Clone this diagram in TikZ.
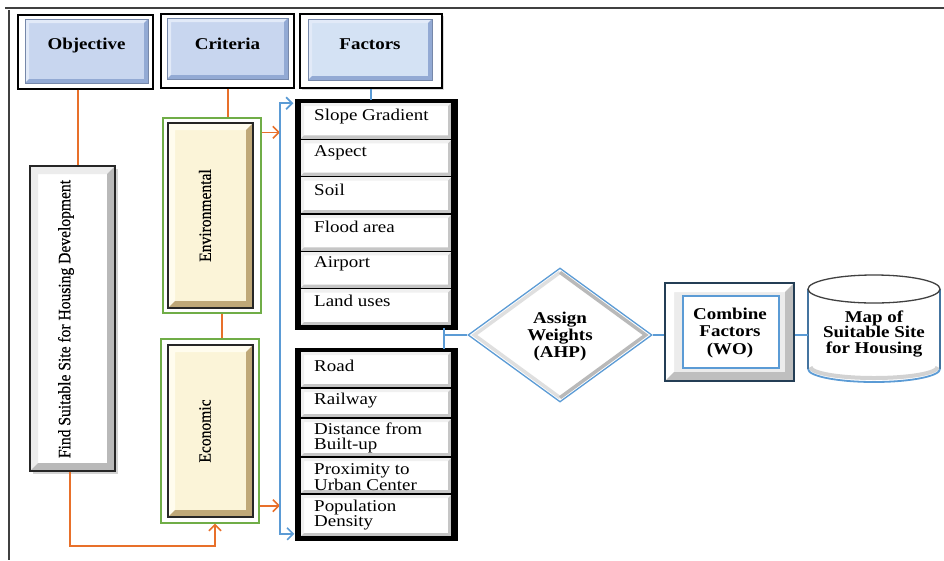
\documentclass[tikz,border=0pt]{standalone}
\usepackage{fontspec}
\setmainfont{Liberation Serif}[FakeStretch=1.15]
\newfontfamily\narrowserif{Liberation Serif}[FakeStretch=0.9,FakeBold=0.6]
\usetikzlibrary{shapes.geometric,arrows.meta,shadows}
\definecolor{orln}{HTML}{E8702A}
\definecolor{blln}{HTML}{5B9BD5}
\definecolor{grn}{HTML}{70AD47}
\definecolor{hdrf}{HTML}{C8D6EF}
\definecolor{hdrl}{HTML}{E2EAF8}
\definecolor{hdrd}{HTML}{93AAD4}
\definecolor{facf}{HTML}{D4E2F4}
\definecolor{crf}{HTML}{FBF4D8}
\definecolor{crl}{HTML}{FFFCEE}
\definecolor{crd}{HTML}{BFA878}
\begin{document}
\begin{tikzpicture}[x=1pt,y=-1pt,
  bevel/.style n args={3}{path picture={
    \coordinate (bvA) at (path picture bounding box.south west);
    \coordinate (bvB) at (path picture bounding box.north east);
    \coordinate (bvC) at (path picture bounding box.north west);
    \coordinate (bvD) at (path picture bounding box.south east);
    \fill[#1] (bvA) -- (bvC) -- (bvB) -- ([shift={(-#3,-#3)}]bvB) -- ([shift={(#3,-#3)}]bvC) -- ([shift={(#3,#3)}]bvA) -- cycle;
    \fill[#2] (bvA) -- ([shift={(#3,#3)}]bvA) -- ([shift={(-#3,#3)}]bvD) -- ([shift={(-#3,-#3)}]bvB) -- (bvB) -- (bvD) -- cycle;
  }},
  hdrout/.style={draw=black,line width=1.4pt,fill=white,inner sep=0pt},
  hdrin/.style={draw=hdrd!80!black,line width=0.6pt,fill=#1,inner sep=0pt,bevel={hdrl}{hdrd}{4pt}},
  hdrtxt/.style={font=\bfseries\fontsize{16.5}{18}\selectfont,inner sep=0pt},
  rowbox/.style={draw=black,line width=1.2pt,fill=white,inner sep=0pt,minimum width=152pt,bevel={gray!12}{gray!45}{4pt}},
  rowtxt/.style={font=\fontsize{16.5}{15.5}\selectfont,align=left,anchor=west,inner sep=0pt},
  rottxt/.style={font=\narrowserif\fontsize{17.3}{18}\selectfont,rotate=90,inner sep=0pt},
  boldtxt/.style={font=\bfseries\fontsize{16.5}{#1}\selectfont,align=center,inner sep=0pt},
  oln/.style={draw=orln,line width=1.6pt},
  bln/.style={draw=blln,line width=1.6pt},
  otip/.style={-{Straight Barb[length=6pt,width=12pt,line width=1.6pt]}},
]
\useasboundingbox (0,0) rectangle (944,560);
% frame
\draw[black!75,line width=1.3pt] (5,8) -- (944,8);
\draw[black!75,line width=1.3pt] (9,10) -- (9,560);

% headers
\node[hdrout,minimum width=135pt,minimum height=74pt] (objout) at (85.5,52) {};
\node[hdrin=hdrf,minimum width=123pt,minimum height=64pt] (objin) at (86.5,51) {};
\node[hdrtxt] (objt) at (86.5,46) {Objective};

\node[hdrout,minimum width=133pt,minimum height=74pt] (critout) at (227.5,51) {};
\node[hdrin=hdrf,minimum width=121pt,minimum height=61pt] (critin) at (227.5,48.5) {};
\node[hdrtxt] (critt) at (227.5,44) {Criteria};

\node[hdrout,line width=2.5pt,minimum width=142pt,minimum height=74pt,drop shadow={shadow xshift=2pt,shadow yshift=-2pt,opacity=0.3}] (facout) at (371,51) {};
\node[hdrin=facf,minimum width=124pt,minimum height=61pt] (facin) at (370,49.5) {};
\node[hdrtxt] (fact) at (370,44) {Factors};

% objective box
\node[draw=black!85,line width=2.2pt,fill=white,minimum width=85pt,minimum height=305pt,inner sep=0pt,bevel={gray!15}{gray!55}{8pt},drop shadow={shadow xshift=3pt,shadow yshift=-3pt,opacity=0.35}] (find) at (72.5,318.5) {};
\node[rottxt] (findt) at (66,319) {Find Suitable Site for Housing Development};

% criteria boxes
\node[draw=grn,line width=1.4pt,minimum width=98pt,minimum height=195pt,inner sep=0pt] (envout) at (212,215.5) {};
\node[draw=black!85,line width=2pt,fill=crf,minimum width=85pt,minimum height=185pt,inner sep=0pt,bevel={crl}{crd}{7pt}] (envin) at (210.5,215.5) {};
\node[rottxt] (envt) at (205,215.5) {Environmental};

\node[draw=grn,line width=1.4pt,minimum width=98pt,minimum height=184pt,inner sep=0pt] (econout) at (210,431) {};
\node[draw=black!85,line width=2pt,fill=crf,minimum width=85pt,minimum height=172pt,inner sep=0pt,bevel={crl}{crd}{7pt}] (econin) at (210.5,431) {};
\node[rottxt] (econt) at (205,431) {Economic};

% factor group 1
\node[draw=black,line width=3.5pt,fill=white,minimum width=156pt,minimum height=224pt,inner sep=0pt] (g1) at (376,214) {};
\node[rowbox,minimum height=37.33pt] (r1) at (376,120.67) {};
\node[rowbox,minimum height=37.33pt] (r2) at (376,158) {};
\node[rowbox,minimum height=37.33pt] (r3) at (376,195.33) {};
\node[rowbox,minimum height=37.33pt] (r4) at (376,232.67) {};
\node[rowbox,minimum height=37.33pt] (r5) at (376,270) {};
\node[rowbox,minimum height=37.33pt] (r6) at (376,307.33) {};
\draw[black,line width=3.5pt] (g1.north west) rectangle (g1.south east);
\node[rowtxt] (r1t) at (314,116.5) {Slope Gradient};
\node[rowtxt] (r2t) at (314,153) {Aspect};
\node[rowtxt] (r3t) at (314,189.5) {Soil};
\node[rowtxt] (r4t) at (314,227) {Flood area};
\node[rowtxt] (r5t) at (314,264) {Airport};
\node[rowtxt] (r6t) at (314,300.5) {Land uses};

% factor group 2
\node[draw=black,line width=3.5pt,fill=white,minimum width=156pt,minimum height=186pt,inner sep=0pt] (g2) at (376,444) {};
\node[rowbox,minimum height=37pt] (s1) at (376,369.5) {};
\node[rowbox,minimum height=30pt] (s2) at (376,403) {};
\node[rowbox,minimum height=39pt] (s3) at (376,437.5) {};
\node[rowbox,minimum height=37pt] (s4) at (376,475.5) {};
\node[rowbox,minimum height=43pt] (s5) at (376,515.5) {};
\draw[black,line width=3.5pt] (g2.north west) rectangle (g2.south east);
\node[rowtxt] (s1t) at (314,366) {Road};
\node[rowtxt] (s2t) at (314,401) {Railway};
\node[rowtxt] (s3t) at (314,438) {Distance from\\Built-up};
\node[rowtxt] (s4t) at (314,477) {Proximity to\\Urban Center};
\node[rowtxt] (s5t) at (314,515) {Population\\Density};

% diamond
\node[diamond,aspect=1.37,minimum width=184pt,minimum height=134pt,inner sep=0pt,draw=blln,line width=1.3pt,fill=white] (dia) at (560,335) {};
\draw[gray!25,line width=3.5pt] ([yshift=-5pt]dia.north) -- ([xshift=7pt]dia.west) -- ([yshift=5pt]dia.south);
\draw[gray!55,line width=3.5pt] ([yshift=5pt]dia.south) -- ([xshift=-7pt]dia.east) -- ([yshift=-5pt]dia.north);
\node[boldtxt=17] (diat) at (560,337) {Assign\\Weights\\(AHP)};

% combine
\node[draw=black!60!blln,line width=1.8pt,fill=gray!15,minimum width=129pt,minimum height=98pt,inner sep=0pt,bevel={white}{gray!50}{9pt}] (comb) at (729.5,332) {};
\node[draw=blln,line width=1.4pt,fill=white,minimum width=96pt,minimum height=72pt,inner sep=0pt] (combin) at (731,332) {};
\node[boldtxt=17.5] (combt) at (730,333) {Combine\\Factors\\(WO)};

% cylinder
\node[minimum width=132pt,minimum height=108pt,inner sep=0pt] (cylbox) at (874,329) {};
\fill[white] (808,289) -- (808,369) arc[start angle=180,end angle=360,x radius=66pt,y radius=13pt] -- (940,289) -- cycle;
\draw[gray!35,line width=4pt] (810.5,367) arc[start angle=180,end angle=360,x radius=63.5pt,y radius=11pt];
\draw[blln!75!black,line width=1.4pt] (808,289) -- (808,369);
\draw[blln!75!black,line width=1.4pt] (940,289) -- (940,369);
\draw[blln,line width=1.8pt] (808,369) arc[start angle=180,end angle=360,x radius=66pt,y radius=13pt];
\draw[black!75,line width=1.3pt,fill=white] (874,289) ellipse[x radius=66pt,y radius=14pt];
\node[boldtxt=15.5] (cylt) at (874,334) {Map of\\Suitable Site\\for Housing};

% orange connectors
\coordinate (bx) at (280,300);
\draw[oln] ([xshift=-7.5pt]objout.south) -- ([xshift=-7.5pt]objout.south |- find.north);
\draw[oln] ([xshift=0.5pt]critout.south) -- ([xshift=0.5pt]critout.south |- envout.north);
\draw[oln] ([xshift=10pt]envout.south) -- ([xshift=10pt]envout.south |- econout.north);
\draw[oln,otip] ([xshift=-2.5pt]find.south) -- ++(0,74) -| ([xshift=5pt]econout.south);
\draw[oln,otip] ([yshift=-15pt]envout.north east) -- ([yshift=-15pt]envout.north east -| bx);
\draw[oln,otip] ([yshift=18pt]econout.south east) -- ([yshift=18pt]econout.south east -| bx);

% blue connectors
\draw[bln] (facout.south) -- (facout.south |- g1.north);
\draw[bln,{Straight Barb[length=6pt,width=12pt,line width=1.6pt]}-{Straight Barb[length=6pt,width=12pt,line width=1.6pt]}] ([xshift=-3pt,yshift=-3pt]g1.north west) -| (bx) |- ([xshift=-2pt,yshift=5pt]g2.south west);
\coordinate (gx) at ([xshift=-12pt]g1.south east);
\draw[bln] (gx) -- (gx |- g2.north);
\draw[bln] (gx |- dia.west) -- (dia.west);
\draw[bln] (dia.east) -- (dia.east -| comb.west);
\draw[bln] (comb.east |- dia.east) -- (dia.east -| cylbox.west);
\end{tikzpicture}
\end{document}
